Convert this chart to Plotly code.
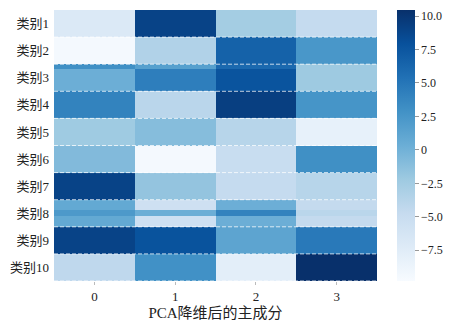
import plotly.graph_objects as go
import plotly.colors as pc

# ---------------- data ----------------
categories = ["类别1", "类别2", "类别3", "类别4", "类别5",
              "类别6", "类别7", "类别8", "类别9", "类别10"]
components = ["0", "1", "2", "3"]

# main value of each (category, component) cell
values = [
    [-7.0,  9.0, -2.6, -4.7],
    [-9.5, -3.4,  6.6,  2.4],
    [ 0.3,  4.4,  7.7, -2.2],
    [ 4.0, -4.0,  9.3,  2.6],
    [-2.3, -1.0, -3.8, -8.2],
    [-0.8, -9.5, -5.0,  3.0],
    [ 9.0, -1.7, -4.7, -3.8],
    [ 0.8, -5.6,  0.3, -4.6],
    [ 9.0,  7.8,  1.2,  4.8],
    [-4.3,  2.9, -7.8, 10.45],
]

# thin bands inside some categories (category index, start frac, end frac, values)
band_rows = [2, 7]
band_start = [0.0, 0.38]
band_end = [0.18, 0.59]
band_values = [
    [3.0, 1.6, 6.0, -2.2],
    [2.2, 0.3, 4.0, -4.0],
]

colorbar_ticks = [10.0, 7.5, 5.0, 2.5, 0, -2.5, -5.0, -7.5]
colorbar_labels = ["10.0", "7.5", "5.0", "2.5", "0", "−2.5", "−5.0", "−7.5"]
zmin, zmax = -9.8, 10.45

# ---------------- build brick grid ----------------
edges = []
zrows = []
for i, row in enumerate(values):
    top = i - 0.5
    if i in band_rows:
        k = band_rows.index(i)
        s, e = top + band_start[k], top + band_end[k]
        segs = []
        if band_start[k] > 0:
            segs.append((top, s, row))
        segs.append((s, e, band_values[k]))
        segs.append((e, top + 1, row))
    else:
        segs = [(top, top + 1, row)]
    for a, b, r in segs:
        if not edges:
            edges.append(a)
        edges.append(b)
        zrows.append(r)

blues = pc.sequential.Blues
n = len(blues)
cscale = [[j / (n - 1), c] for j, c in enumerate(blues)]

serif = "Liberation Serif, DejaVu Serif, Noto Sans CJK SC, serif"

fig = go.Figure()
fig.add_trace(go.Heatmap(
    z=zrows,
    x=[-0.5, 0.5, 1.5, 2.5, 3.5],
    y=edges,
    colorscale=cscale,
    zmin=zmin, zmax=zmax,
    colorbar=dict(
        thickness=18, len=1.0, lenmode="fraction",
        x=1.062, xanchor="left", y=0.5, yanchor="middle",
        outlinewidth=0, xpad=0, ypad=0,
        tickvals=colorbar_ticks, ticktext=colorbar_labels,
        ticks="outside", ticklen=4, tickcolor="#999999", tickwidth=1,
        tickfont=dict(family=serif, size=12, color="#222222"),
    ),
    hoverinfo="skip",
))

# dashed separators between categories and at bottom
for i in range(len(categories)):
    fig.add_shape(type="line", xref="x", yref="y",
                  x0=-0.5, x1=3.5, y0=i + 0.5, y1=i + 0.5,
                  line=dict(color="rgba(255,255,255,0.75)", width=1, dash="4px,2px"))

fig.update_xaxes(
    range=[-0.5, 3.5], tickvals=[0, 1, 2, 3], ticktext=components,
    ticks="outside", ticklen=3, tickcolor="#bbbbbb",
    showgrid=False, zeroline=False, showline=False,
    tickfont=dict(family=serif, size=13, color="#222222"),
    title=dict(text="PCA降维后的主成分", font=dict(family=serif, size=15, color="#222222"),
               standoff=4),
)
fig.update_yaxes(
    range=[9.5, -0.5], tickvals=list(range(10)), ticktext=categories,
    ticks="", showgrid=False, zeroline=False, showline=False,
    tickfont=dict(family=serif, size=13, color="#222222"),
    ticklabelstandoff=4,
)
fig.update_layout(
    width=451, height=324,
    margin=dict(l=54, r=74, t=10, b=43, autoexpand=False),
    paper_bgcolor="white", plot_bgcolor="white",
)
fig.write_html("out.html",
               config={"displayModeBar": False},
               post_script="document.body.style.margin='0';document.body.style.overflow='hidden';")
